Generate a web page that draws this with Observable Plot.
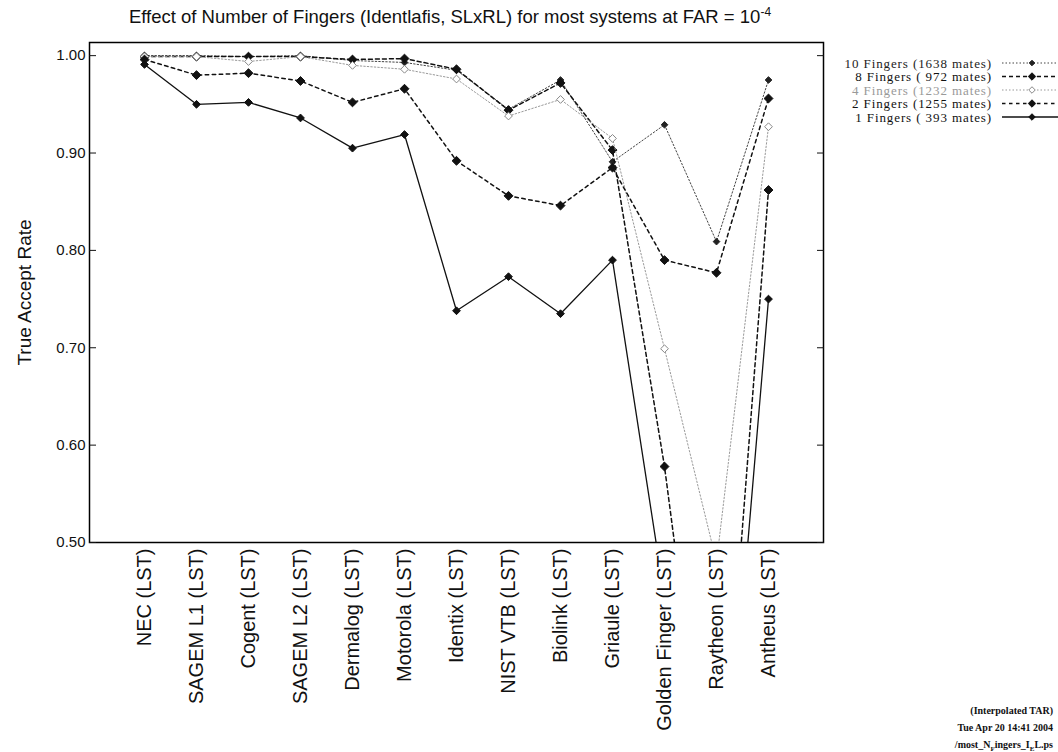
<!DOCTYPE html>
<html><head><meta charset="utf-8">
<script src="https://cdn.jsdelivr.net/npm/d3@7"></script>
<script src="https://cdn.jsdelivr.net/npm/@observablehq/plot@0.6"></script>
<style>
body{margin:0;background:#fff;}
#wrap{position:relative;width:1058px;height:752px;overflow:hidden;background:#fff;}
#title{position:absolute;left:80px;width:740px;top:5px;text-align:center;font:18.5px "Liberation Sans",Arial,sans-serif;color:#111;white-space:nowrap;}
#title sup{font-size:12px;}
#chart{position:absolute;left:0;top:0;}
#legend{position:absolute;left:0;top:0;}
#caption{position:absolute;right:5px;top:702px;text-align:right;font:bold 10px "Liberation Serif","Times New Roman",serif;line-height:17px;color:#111;}
#caption sub{font-size:7px;}
</style></head><body>
<div id="wrap">
<div id="chart"></div>
<div id="title">Effect of Number of Fingers (Identlafis, SLxRL) for most systems at FAR = 10<sup>-4</sup></div>
<svg id="legend" width="1058" height="160"></svg>
<div id="caption">(Interpolated TAR)<br>Tue Apr 20 14:41 2004<br>/most_N<sub>F</sub>ingers_I<sub>E</sub>L.ps</div>
</div>
<script>
const categories = ["NEC (LST)", "SAGEM L1 (LST)", "Cogent (LST)", "SAGEM L2 (LST)", "Dermalog (LST)", "Motorola (LST)", "Identix (LST)", "NIST VTB (LST)", "Biolink (LST)", "Griaule (LST)", "Golden Finger (LST)", "Raytheon (LST)", "Antheus (LST)"];
const tenFingers   = [1.000, 1.000, 0.999, 1.000, 0.995, 0.993, 0.985, 0.945, 0.975, 0.891, 0.929, 0.809, 0.975];
const eightFingers = [0.999, 0.999, 0.999, 0.999, 0.996, 0.997, 0.986, 0.944, 0.972, 0.903, 0.578, 0.170, 0.862];
const fourFingers  = [0.999, 0.999, 0.994, 0.999, 0.990, 0.986, 0.976, 0.938, 0.955, 0.915, 0.699, 0.480, 0.927];
const twoFingers   = [0.996, 0.980, 0.982, 0.974, 0.952, 0.966, 0.892, 0.856, 0.846, 0.885, 0.790, 0.777, 0.956];
const oneFinger    = [0.991, 0.950, 0.952, 0.936, 0.905, 0.919, 0.738, 0.773, 0.735, 0.790, 0.444, 0.120, 0.750];
const seriesNames  = ["10 Fingers (1638 mates)", "8 Fingers ( 972 mates)", "4 Fingers (1232 mates)", "2 Fingers (1255 mates)", "1 Fingers ( 393 mates)"];
const yTicks = [0.50, 0.60, 0.70, 0.80, 0.90, 1.00];

const seriesValues = [tenFingers, eightFingers, fourFingers, twoFingers, oneFinger];
const styles = [
  {stroke: "#444", width: 1, dash: "1.5,2", fill: "#222", mstroke: "#222", r: 3, text: "#222"},
  {stroke: "#111", width: 1.5, dash: "4,3", fill: "#111", mstroke: "#111", r: 4, text: "#111"},
  {stroke: "#999", width: 1, dash: "1.5,2", fill: "#fff", mstroke: "#888", r: 3.5, text: "#999"},
  {stroke: "#111", width: 1.5, dash: "3.5,3.5", fill: "#111", mstroke: "#111", r: 4, text: "#111"},
  {stroke: "#111", width: 1.3, dash: null, fill: "#111", mstroke: "#111", r: 3.5, text: "#111"}
];

const seriesMarks = [];
seriesValues.forEach((vals, i) => {
  const st = styles[i];
  const data = categories.map((c, j) => ({cat: c, v: vals[j], series: seriesNames[i]}));
  seriesMarks.push(Plot.line(data, {x: "cat", y: "v", stroke: st.stroke, strokeWidth: st.width, strokeDasharray: st.dash, clip: true}));
  seriesMarks.push(Plot.dot(data, {x: "cat", y: "v", symbol: "diamond2", r: st.r, fill: st.fill, stroke: st.mstroke, strokeWidth: 1, clip: true}));
});

const chart = Plot.plot({
  width: 1058,
  height: 752,
  marginTop: 42,
  marginBottom: 210,
  marginLeft: 89,
  marginRight: 235,
  style: {fontFamily: "'Liberation Sans', Arial, sans-serif", background: "#fff", color: "#111"},
  x: {type: "point", domain: categories, padding: 0.97},
  y: {domain: [0.5, 1.0135]},
  marks: [
    ...seriesMarks,
    Plot.frame({stroke: "#000", strokeWidth: 1.5}),
    Plot.axisY(yTicks, {anchor: "left", tickSize: 0, tickPadding: 4, tickFormat: d3.format(".2f"), fontSize: 15, label: null}),
    Plot.axisY(yTicks, {anchor: "left", tickSize: -7, tickFormat: () => "", fontSize: 19, label: "True Accept Rate", labelAnchor: "center", labelOffset: 72, labelArrow: "none"}),
    Plot.axisY(yTicks, {anchor: "right", tickSize: -7, tickFormat: () => "", label: null}),
    Plot.axisX({anchor: "bottom", tickRotate: -90, tickSize: 0, tickPadding: 6, fontSize: 20, label: null})
  ]
});
document.getElementById("chart").appendChild(chart);

// legend
const lg = d3.select("#legend");
seriesNames.forEach((name, i) => {
  const st = styles[i];
  const cy = 63 + i * 13.5;
  lg.append("text").attr("x", 992).attr("y", cy).attr("dy", "0.35em").attr("text-anchor", "end")
    .attr("font-family", "'Liberation Serif','Times New Roman',serif").attr("font-size", 13)
    .attr("letter-spacing", "0.9px")
    .attr("fill", st.text).style("white-space", "pre").text(name);
  lg.append("line").attr("x1", 1002).attr("x2", 1058).attr("y1", cy).attr("y2", cy)
    .attr("stroke", st.stroke).attr("stroke-width", st.width).attr("stroke-dasharray", st.dash);
  lg.append("path").attr("d", d3.symbol().type(d3.symbolDiamond2).size(st.r * st.r * 2.2)())
    .attr("transform", `translate(1032,${cy})`).attr("fill", st.fill).attr("stroke", st.mstroke);
});
</script>
</body></html>
